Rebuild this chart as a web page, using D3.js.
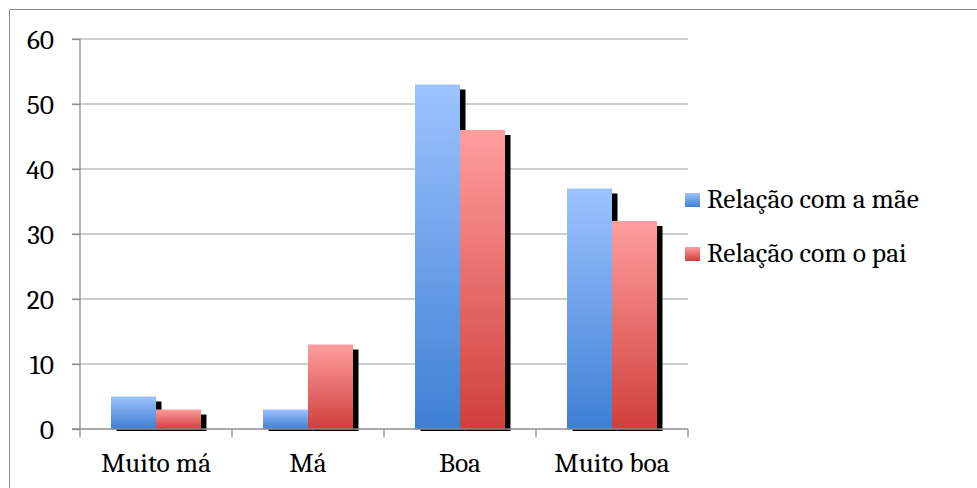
<!DOCTYPE html>
<html>
<head>
<meta charset="utf-8">
<script src="https://cdn.jsdelivr.net/npm/d3@7/dist/d3.min.js"></script>
<style>
  html, body { margin: 0; padding: 0; background: #fff; }
  svg { display: block; }
</style>
</head>
<body>
<svg id="chart" width="977" height="488"></svg>
<script>
// Categories, series and values
const categories = ["Muito má", "Má", "Boa", "Muito boa"];
const seriesNames = ["Relação com a mãe", "Relação com o pai"];
const maeValues = [5, 3, 53, 37];
const paiValues = [3, 13, 46, 32];
const yTicks = [0, 10, 20, 30, 40, 50, 60];

const seriesValues = [maeValues, paiValues];
const gradients = [
  { id: "gradMae", top: "#9dc3ff", bottom: "#3e7fd4" },
  { id: "gradPai", top: "#ff9e9e", bottom: "#cf3f3b" }
];

const FONT = "Cambria, Caladea, 'Liberation Serif', 'DejaVu Serif', 'Noto Serif', Tinos, 'Nimbus Roman', 'Nimbus Roman No9 L', FreeSerif, 'Bitstream Vera Serif', Georgia, 'Times New Roman', Times, serif";

const svg = d3.select("#chart")
  .attr("font-family", FONT);
const W = 977, H = 488;
const plot = { left: 80, right: 688, top: 39, bottom: 429 };

// Pick a font size so the legend label spans its usual width
const probe = svg.append("text").attr("font-family", FONT).attr("font-size", 20)
  .text(seriesNames[0]);
const probeLen = probe.node().getComputedTextLength();
probe.remove();
const FS = Math.min(28, Math.max(18, 20 * 212 / probeLen));

// Outer frame (runs off the right and bottom edges)
svg.append("rect")
  .attr("x", 9.5).attr("y", 9.5)
  .attr("width", W).attr("height", H)
  .attr("fill", "#fff")
  .attr("stroke", "#8a8a8a").attr("stroke-width", 1);

const defs = svg.append("defs");
gradients.forEach(g => {
  const lg = defs.append("linearGradient").attr("id", g.id)
    .attr("x1", 0).attr("y1", 0).attr("x2", 0).attr("y2", 1);
  lg.append("stop").attr("offset", "0%").attr("stop-color", g.top);
  lg.append("stop").attr("offset", "100%").attr("stop-color", g.bottom);
});

const y = d3.scaleLinear().domain([0, 60]).range([plot.bottom, plot.top]);
const x0 = d3.scaleBand().domain(categories).range([plot.left, plot.right])
  .paddingInner(0).paddingOuter(0);
const x1 = d3.scaleBand().domain(d3.range(seriesNames.length))
  .range([0, x0.bandwidth()]).paddingInner(0).paddingOuter(0.689);

// Horizontal gridlines
svg.append("g").selectAll("line").data(yTicks.filter(t => t > 0)).join("line")
  .attr("x1", plot.left - 8).attr("x2", plot.right)
  .attr("y1", d => y(d)).attr("y2", d => y(d))
  .attr("stroke", "#bdbdbd").attr("stroke-width", 1.6);

// Y axis with left ticks
const yAxis = svg.append("g").attr("transform", `translate(${plot.left},0)`)
  .call(d3.axisLeft(y).tickValues(yTicks).tickSize(8).tickPadding(0).tickFormat(d3.format("d")))
  .attr("font-family", FONT).attr("font-size", FS);
yAxis.select(".domain").attr("stroke", "#8c8c8c").attr("stroke-width", 1.3)
  .attr("d", `M0,${plot.bottom}V${plot.top}`);
yAxis.selectAll(".tick line").attr("stroke", "#8c8c8c").attr("stroke-width", 1.3);
yAxis.selectAll(".tick text")
  .attr("x", -26).attr("dy", "0.34em")
  .attr("fill", "#000");

// Bars: shadows first, then gradient-filled bars
const rows = categories.map((c, i) => ({ cat: c, vals: seriesValues.map(s => s[i]) }));
const groups = svg.append("g").selectAll("g").data(rows).join("g")
  .attr("transform", d => `translate(${x0(d.cat)},0)`);

const shadowDx = 5.5, shadowDy = 5;
groups.selectAll("rect.shadow").data(d => d.vals.map((v, k) => ({ v, k }))).join("rect")
  .attr("class", "shadow")
  .attr("x", d => x1(d.k) + shadowDx)
  .attr("y", d => y(d.v) + shadowDy)
  .attr("width", x1.bandwidth())
  .attr("height", d => Math.max(0, y(0) + 2 - (y(d.v) + shadowDy)))
  .attr("fill", "#000");

groups.selectAll("rect.bar").data(d => d.vals.map((v, k) => ({ v, k }))).join("rect")
  .attr("class", "bar")
  .attr("x", d => x1(d.k))
  .attr("y", d => y(d.v))
  .attr("width", x1.bandwidth())
  .attr("height", d => y(0) - y(d.v))
  .attr("fill", d => `url(#${gradients[d.k].id})`);

// X axis with category ticks at band edges
const xAxisG = svg.append("g").attr("transform", `translate(0,${plot.bottom})`);
xAxisG.append("line")
  .attr("x1", plot.left - 8).attr("x2", plot.right)
  .attr("stroke", "#8c8c8c").attr("stroke-width", 1.3);
const edges = categories.map(c => x0(c)).concat([plot.right]);
xAxisG.selectAll("line.tick").data(edges).join("line")
  .attr("class", "tick")
  .attr("x1", d => d).attr("x2", d => d)
  .attr("y1", 0).attr("y2", 8)
  .attr("stroke", "#8c8c8c").attr("stroke-width", 1.3);
xAxisG.selectAll("text").data(categories).join("text")
  .attr("x", d => x0(d) + x0.bandwidth() / 2)
  .attr("y", 43)
  .attr("text-anchor", "middle")
  .attr("font-size", FS)
  .attr("fill", "#000")
  .text(d => d);

// Legend
const legend = svg.append("g").attr("transform", "translate(685,193)");
const items = legend.selectAll("g").data(seriesNames).join("g")
  .attr("transform", (d, i) => `translate(0,${i * 54})`);
items.append("rect")
  .attr("width", 15).attr("height", 14)
  .attr("fill", (d, i) => `url(#${gradients[i].id})`);
items.append("text")
  .attr("x", 22).attr("y", 14.5)
  .attr("font-size", FS)
  .attr("fill", "#000")
  .text(d => d);
</script>
</body>
</html>
